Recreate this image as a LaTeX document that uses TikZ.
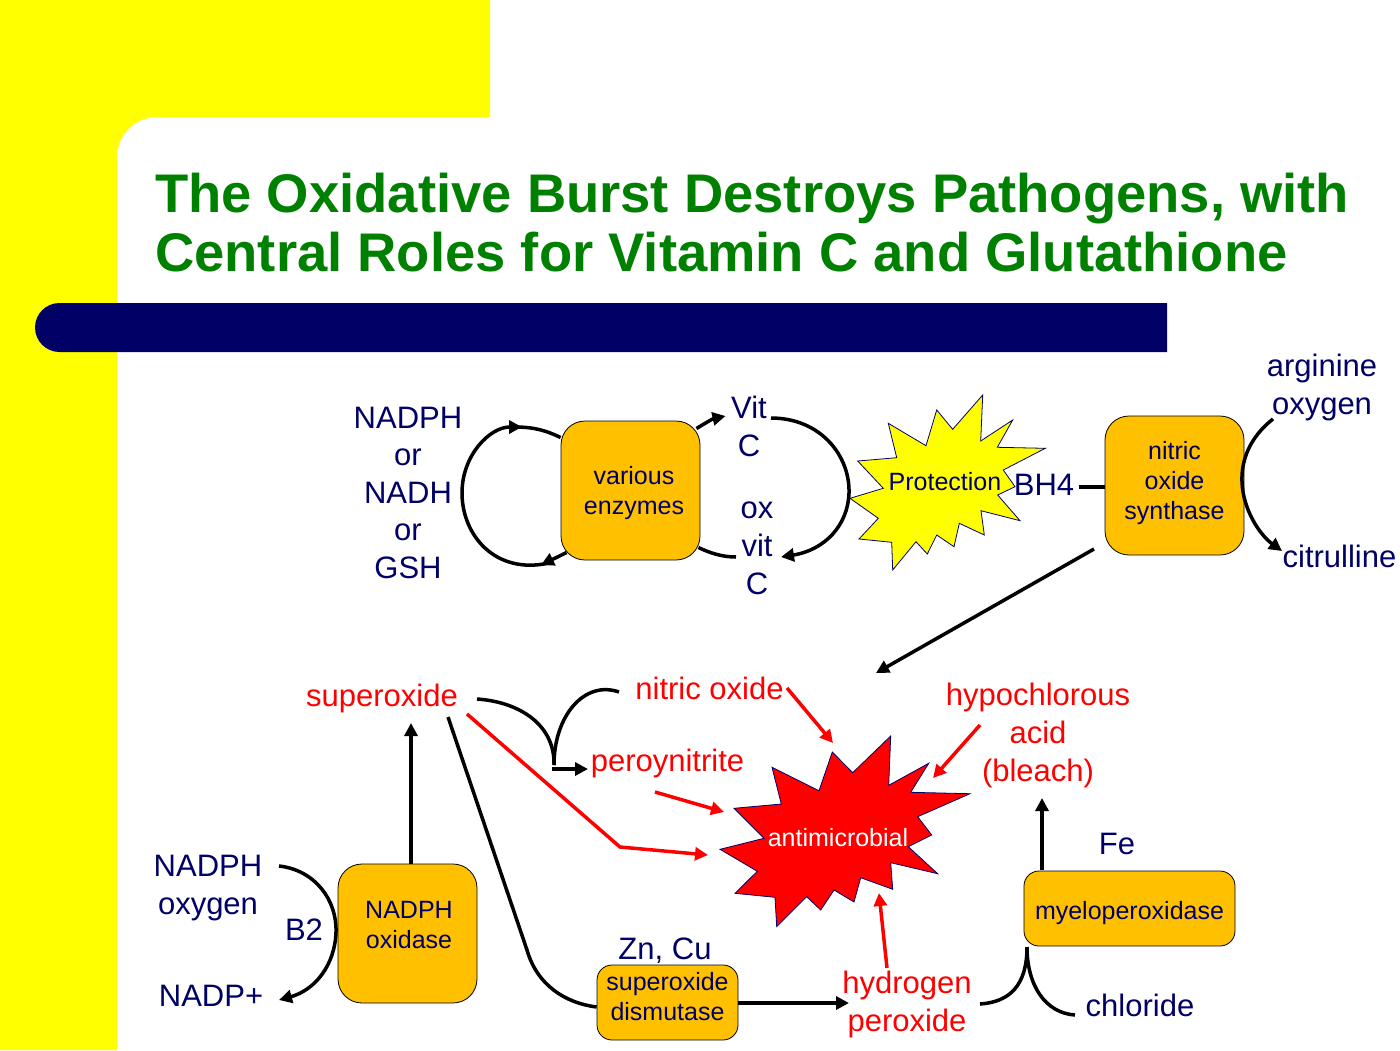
\documentclass[tikz,border=0pt]{standalone}
\usepackage{fontspec}
\setmainfont{Liberation Sans}
\usetikzlibrary{arrows.meta,positioning,calc}
\definecolor{navy}{HTML}{000066}
\definecolor{amber}{HTML}{FFC000}
\definecolor{titlegreen}{HTML}{008000}
\definecolor{slideyellow}{HTML}{FFFF00}
\definecolor{pureRed}{HTML}{FF0000}
\tikzset{
  enzyme/.style={draw=black,line width=0.8pt,fill=amber,rounded corners=24pt,inner sep=0pt,text=navy,align=center,
    font=\fontsize{25}{30}\selectfont},
  smallenzyme/.style={enzyme,rounded corners=15pt},
  txt/.style={inner sep=0pt,align=center,text=navy,font=\fontsize{31}{38}\selectfont},
  redtxt/.style={txt,text=pureRed},
  burst/.style={draw=navy,line width=0.8pt,line join=miter},
  wire/.style={black,line width=3.5pt},
  arw/.style={wire,-{Triangle[length=13pt,width=13pt]}},
  redarw/.style={pureRed,line width=3.5pt,-{Triangle[length=13pt,width=13pt]}}
}
\begin{document}
\begin{tikzpicture}[x=1pt,y=-1pt]
  \useasboundingbox (0,0) rectangle (1400,1050);
  % slide background
  \fill[slideyellow] (0,0) -- (490,0) -- (490,117) -- (157,117) arc[start angle=90,end angle=180,radius=40pt] -- (117,1050) -- (0,1050) -- cycle;
  \fill[navy] (1167,303) -- (59.5,303) arc[start angle=90,end angle=270,radius=24.5pt] -- (1167,352) -- cycle;
  \node[anchor=west,inner sep=0pt,align=left,text=titlegreen,font=\fontsize{54.4}{59}\bfseries\selectfont] (heading) at (155,223)
    {The Oxidative Burst Destroys Pathogens, with\\Central Roles for Vitamin C and Glutathione};

  % bursts
  \draw[burst,fill=slideyellow] (982.7,395) -- (980.7,441) -- (1012.7,420) -- (997.3,447.3) -- (1045.3,448.3) -- (1003.3,470)
    -- (1015,486.7) -- (997.7,495) -- (1020,520.7) -- (981,510.7) -- (984.3,535) -- (959.3,523.3) -- (954,546.7)
    -- (936.7,535) -- (927.3,554) -- (916,541.7) -- (892.7,570) -- (891.7,542.3) -- (859,539) -- (878.3,518.3)
    -- (850,498.3) -- (883.3,488.3) -- (857.7,461) -- (896.7,457.7) -- (888.3,423.3) -- (926,445.7) -- (936.7,410)
    -- (952.7,429.3) -- cycle;
  \draw[burst,fill=pureRed] (890.7,736) -- (888.7,785.3) -- (928.7,763.3) -- (910.7,792.3) -- (970,793.7) -- (917.7,816.7)
    -- (931.7,835) -- (908.3,846.7) -- (937.7,873.7) -- (890.7,862.7) -- (892.7,889.3) -- (860.7,877.7) -- (854,902)
    -- (834,890) -- (820.7,910) -- (806.7,896.7) -- (776.7,926.7) -- (775,897.3) -- (735,893.3) -- (757.3,871.3)
    -- (720,849.3) -- (764,838.3) -- (734,808.3) -- (781.3,804) -- (772,767.3) -- (819,790.7) -- (832.3,752)
    -- (852.7,772.7) -- cycle;
  \node[inner sep=0pt,text=navy,font=\fontsize{25}{30}\selectfont] (protection) at (945,482) {Protection};
  \node[inner sep=0pt,text=white,font=\fontsize{25}{30}\selectfont] (antimicrobial) at (838,838) {antimicrobial};

  % enzymes
  \node[enzyme,minimum width=139pt,minimum height=139pt,text height=54pt] (various) at (630.5,490.5) {\hspace*{7pt}various\\\hspace*{7pt}enzymes};
  \node[enzyme,minimum width=139pt,minimum height=139pt] (nos) at (1174.5,485.5) {nitric\\oxide\\synthase\\[-20pt]~};
  \node[enzyme,minimum width=139pt,minimum height=139pt] (nox) at (407.5,933.5) {\hspace*{3pt}NADPH\\\hspace*{3pt}oxidase\\[-12pt]~};
  \node[smallenzyme,minimum width=141pt,minimum height=75pt] (sod) at (667.5,1002.5) {superoxide\\dismutase\\[-17pt]~};
  \node[smallenzyme,minimum width=211pt,minimum height=75pt,text height=28pt] (mpo) at (1129.5,908.5) {myeloperoxidase};

  % navy labels
  \node[txt,font=\fontsize{31}{37.5}\selectfont] (reductants) at (408,492.5) {NADPH\\or\hspace*{8pt}\\NADH\\or\hspace*{8pt}\\GSH};
  \node[txt] (vitc) at (749,426) {Vit\\C};
  \node[txt] (oxvitc) at (757,548) {ox\\vit\\C};
  \node[txt] (bh) at (1044,485) {BH4};
  \node[txt] (arginine) at (1322,387) {arginine\\oxygen};
  \node[txt] (citrulline) at (1339.5,556) {citrulline};
  \node[txt] (nadphin) at (208,888) {NADPH\\oxygen};
  \node[txt] (btwo) at (304,930) {B2};
  \node[txt] (nadpplus) at (211,996) {NADP+};
  \node[txt] (zncu) at (665,951) {Zn, Cu};
  \node[txt] (iron) at (1117,844) {Fe};
  \node[txt] (chloride) at (1140,1005) {chloride};

  % red labels
  \node[redtxt] (superoxide) at (382,698) {superoxide};
  \node[redtxt] (nitricox) at (709.5,688) {nitric oxide};
  \node[redtxt] (peroy) at (667.5,763) {peroynitrite};
  \node[redtxt] (hocl) at (1038,735) {hypochlorous\\acid\\(bleach)};
  \node[redtxt] (peroxide) at (907,1004) {hydrogen\\peroxide};

  % free ends
  \coordinate (loopbot) at (549,563);
  \coordinate (looptop) at (522,427);
  \coordinate (loopleft) at (462,493);
  \coordinate (nosdown) at (876,673);
  \coordinate (noson) at (1094,549);
  \coordinate (kink) at (620,847);
  \coordinate (bend) at (527,950);

  % upper cycle
  \draw[wire,-{Triangle[length=13pt,width=13pt]}] (loopbot) .. controls (495,575) and (462,535) .. (loopleft) .. controls (462,455) and (490,427) .. (looptop);
  \draw[wire] ([yshift=53pt]various.west) .. controls (547,431) and (535,427) .. (515,427);
  \draw[arw] ([xshift=6pt,yshift=-62pt]various.west) -- (541,565);
  \draw[arw] ([xshift=-4pt,yshift=62pt]various.east) .. controls (704,424) and (712,419) .. (725.5,416);
  \draw[arw] (771,418) .. controls (820,418) and (850,455) .. (849,493) .. controls (848,525) and (825,550) .. (781,557);
  \draw[wire] ([xshift=-2pt,yshift=-57pt]various.east) .. controls (710,553) and (722,557) .. (736,557);
  \draw[wire] ([xshift=35pt,yshift=-2pt]bh.center) -- (nos.west |- 0,487);
  \draw[arw] (1273,419) .. controls (1250,437) and (1241,460) .. (1242,482) .. controls (1243,510) and (1260,535) .. (1282,551);
  \draw[arw] (noson) -- (nosdown);

  % lower part
  \draw[wire] (477,699) .. controls (520,702) and (555,725) .. (554,765);
  \draw[wire] (619,692) .. controls (585,680) and (554,715) .. (554,765);
  \draw[arw] (552,769) -- (588,769);
  \draw[redarw,line join=round] (467,714) -- (kink) -- (708,855);
  \draw[redarw] (655,792) -- (724,812);
  \draw[redarw] (787,688) -- (833,743);
  \draw[redarw] (980,725) -- (933,778);
  \draw[redarw] (887,968) -- (879,893);
  \draw[wire] (448,717) -- (bend) .. controls (537,985) and (565,1003) .. ([yshift=-4.5pt]sod.west);
  \draw[arw] (nox.north -| 411,0) -- (411,723);
  \draw[arw] (279,866) .. controls (315,870) and (337,900) .. (336,932) .. controls (335,965) and (315,990) .. (279,1000);
  \draw[arw] (738,1003) -- (849,1003);
  \draw[wire] (980,1004) .. controls (1010,1002) and (1027,985) .. (1027,947);
  \draw[wire] (1075,1015) .. controls (1045,1013) and (1027,985) .. (1027,947);
  \draw[arw] (1042,870) -- (1042,798);
\end{tikzpicture}
\end{document}
